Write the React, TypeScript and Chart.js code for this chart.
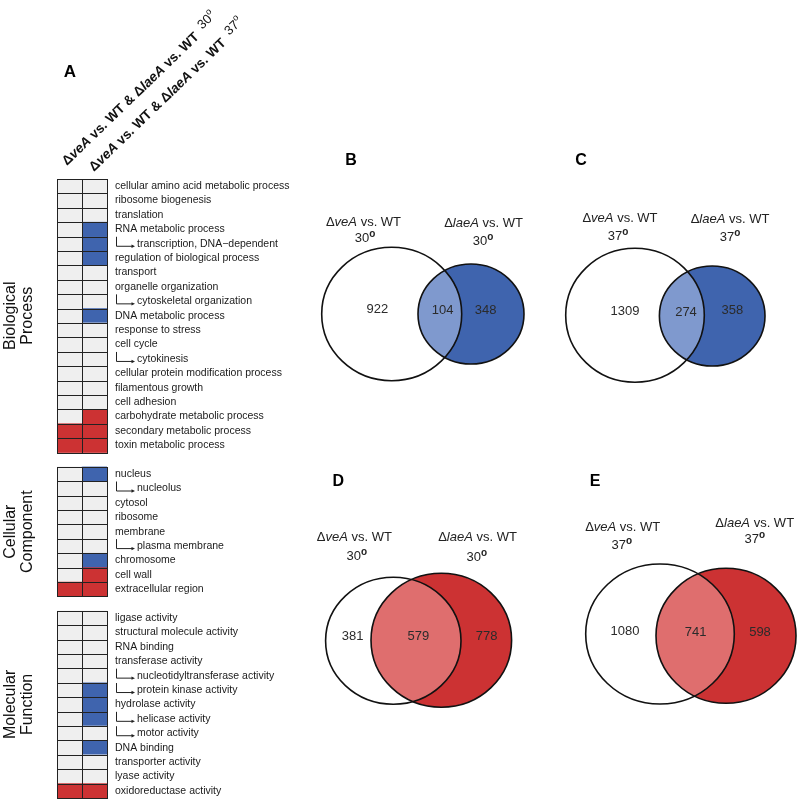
import React, { useEffect, useRef } from "react";
import { Chart, registerables } from "chart.js";
Chart.register(...registerables);

const FONT = '"Liberation Sans", Arial, Helvetica, sans-serif';

// ---------- Panel A data (0 = not enriched, 1 = blue, 2 = red) ----------
const bpTerms = [
  "cellular amino acid metabolic process", "ribosome biogenesis", "translation",
  "RNA metabolic process", "transcription, DNA\u2212dependent", "regulation of biological process",
  "transport", "organelle organization", "cytoskeletal organization", "DNA metabolic process",
  "response to stress", "cell cycle", "cytokinesis", "cellular protein modification process",
  "filamentous growth", "cell adhesion", "carbohydrate metabolic process",
  "secondary metabolic process", "toxin metabolic process",
];
const bpAt30 = [0, 0, 0, 0, 0, 0, 0, 0, 0, 0, 0, 0, 0, 0, 0, 0, 0, 2, 2];
const bpAt37 = [0, 0, 0, 1, 1, 1, 0, 0, 0, 1, 0, 0, 0, 0, 0, 0, 2, 2, 2];

const ccTerms = [
  "nucleus", "nucleolus", "cytosol", "ribosome", "membrane", "plasma membrane",
  "chromosome", "cell wall", "extracellular region",
];
const ccAt30 = [0, 0, 0, 0, 0, 0, 0, 0, 2];
const ccAt37 = [1, 0, 0, 0, 0, 0, 1, 2, 2];

const mfTerms = [
  "ligase activity", "structural molecule activity", "RNA binding", "transferase activity",
  "nucleotidyltransferase activity", "protein kinase activity", "hydrolase activity",
  "helicase activity", "motor activity", "DNA binding", "transporter activity",
  "lyase activity", "oxidoreductase activity",
];
const mfAt30 = [0, 0, 0, 0, 0, 0, 0, 0, 0, 0, 0, 0, 2];
const mfAt37 = [0, 0, 0, 0, 0, 1, 1, 1, 0, 1, 0, 0, 2];

const childTerms = [
  "transcription, DNA\u2212dependent", "cytoskeletal organization", "cytokinesis",
  "nucleolus", "plasma membrane", "nucleotidyltransferase activity",
  "protein kinase activity", "helicase activity", "motor activity",
];
const groupNames = [["Biological", "Process"], ["Cellular", "Component"], ["Molecular", "Function"]];
const headerTemps = ["30", "37"];

// ---------- Venn data ----------
const vennGenes = ["veA", "laeA"];
const countsB = [922, 104, 348];
const countsC = [1309, 274, 358];
const countsD = [381, 579, 778];
const countsE = [1080, 741, 598];

const BLUE = "#3F64AE";
const BLUE_LIGHT = "#7F99CE";
const RED = "#CC3233";
const RED_LIGHT = "#DF6E6E";
const GRAY = "#EFEFEF";
const CELL_COLORS = [GRAY, BLUE, RED];

// ---------- build heatmap rows ----------
type Row = { term: string; c30: number; c37: number } | null;
const rows: Row[] = [];
const groupRanges: [number, number][] = [];
[[bpTerms, bpAt30, bpAt37], [ccTerms, ccAt30, ccAt37], [mfTerms, mfAt30, mfAt37]].forEach(
  (g: any, gi) => {
    if (gi > 0) rows.push(null);
    const start = rows.length;
    (g[0] as string[]).forEach((t, i) => rows.push({ term: t, c30: g[1][i], c37: g[2][i] }));
    groupRanges.push([start, rows.length - 1]);
  }
);

type Part = { text: string; font: string; dy?: number };
function drawRich(ctx: CanvasRenderingContext2D, parts: Part[], x: number, y: number, center: boolean) {
  let total = 0;
  for (const p of parts) {
    ctx.font = p.font;
    total += ctx.measureText(p.text).width;
  }
  let cx = center ? x - total / 2 : x;
  ctx.textAlign = "left";
  for (const p of parts) {
    ctx.font = p.font;
    ctx.fillText(p.text, cx, y + (p.dy || 0));
    cx += ctx.measureText(p.text).width;
  }
}

const heatmapPlugin = {
  id: "heatmapDecor",
  afterDraw(chart: any) {
    const ctx: CanvasRenderingContext2D = chart.ctx;
    const ys = chart.scales.y;
    const area = chart.chartArea;
    ctx.save();
    // cell outlines
    ctx.strokeStyle = "#222";
    ctx.lineWidth = 1;
    chart.data.datasets.forEach((ds: any, di: number) => {
      const meta = chart.getDatasetMeta(di);
      meta.data.forEach((el: any, i: number) => {
        if (ds.data[i] == null) return;
        const p = el.getProps(["x", "y", "base", "height"], true);
        const l = Math.round(Math.min(p.base, p.x)) + 0.5;
        const r = Math.round(Math.max(p.base, p.x)) + 0.5;
        const t = Math.round(p.y - p.height / 2) + 0.5;
        const b = Math.round(p.y + p.height / 2) + 0.5;
        ctx.strokeRect(l, t, r - l, b - t);
      });
    });
    // term labels
    ctx.fillStyle = "#1a1a1a";
    ctx.textBaseline = "middle";
    const tx = area.right + 8;
    rows.forEach((row, i) => {
      if (!row) return;
      const yc = ys.getPixelForValue(i);
      ctx.font = `10.5px ${FONT}`;
      ctx.textAlign = "left";
      if (childTerms.includes(row.term)) {
        ctx.strokeStyle = "#222";
        ctx.lineWidth = 1;
        ctx.beginPath();
        ctx.moveTo(tx + 1.5, yc - 7);
        ctx.lineTo(tx + 1.5, yc + 2.5);
        ctx.lineTo(tx + 17, yc + 2.5);
        ctx.stroke();
        ctx.beginPath();
        ctx.moveTo(tx + 16.5, yc + 0.8);
        ctx.lineTo(tx + 20, yc + 2.5);
        ctx.lineTo(tx + 16.5, yc + 4.2);
        ctx.closePath();
        ctx.fillStyle = "#222";
        ctx.fill();
        ctx.fillStyle = "#1a1a1a";
        ctx.fillText(row.term, tx + 22, yc);
      } else {
        ctx.fillText(row.term, tx, yc);
      }
    });
    // group labels (rotated)
    ctx.fillStyle = "#111";
    ctx.font = `16px ${FONT}`;
    ctx.textAlign = "center";
    ctx.textBaseline = "middle";
    groupRanges.forEach(([s, e], gi) => {
      const yc = (ys.getPixelForValue(s) + ys.getPixelForValue(e)) / 2;
      const names = groupNames[gi];
      [10.5, 27.5].forEach((x, li) => {
        ctx.save();
        ctx.translate(x, yc);
        ctx.rotate(-Math.PI / 2);
        ctx.fillText(names[li], 0, 0);
        ctx.restore();
      });
    });
    // column headers (diagonal)
    const anchors = [[67, 166], [94, 172]];
    const bold = `bold 13.5px ${FONT}`;
    const boldIt = `italic bold 13.5px ${FONT}`;
    headerTemps.forEach((temp, i) => {
      ctx.save();
      ctx.translate(anchors[i][0], anchors[i][1]);
      ctx.rotate((-44 * Math.PI) / 180);
      ctx.textBaseline = "alphabetic";
      ctx.fillStyle = "#111";
      drawRich(
        ctx,
        [
          { text: "\u0394", font: bold },
          { text: "veA", font: boldIt },
          { text: " vs. WT & ", font: bold },
          { text: "\u0394", font: bold },
          { text: "laeA", font: boldIt },
          { text: " vs. WT  ", font: bold },
          { text: temp, font: `13px ${FONT}`, dy: -4 },
          { text: "o", font: `9px ${FONT}`, dy: -10 },
        ],
        0,
        0,
        false
      );
      ctx.restore();
    });
    // panel letter
    ctx.fillStyle = "#000";
    ctx.font = `bold 17px ${FONT}`;
    ctx.textAlign = "center";
    ctx.textBaseline = "middle";
    ctx.fillText("A", 70, 72);
    ctx.restore();
  },
};

function HeatmapPanel() {
  const ref = useRef<HTMLCanvasElement>(null);
  useEffect(() => {
    const labels = rows.map((r) => (r ? r.term : ""));
    const chart = new Chart(ref.current!, {
      type: "bar",
      data: {
        labels,
        datasets: [
          {
            label: "30",
            data: rows.map((r) => (r ? 1 : null)),
            backgroundColor: rows.map((r) => (r ? CELL_COLORS[r.c30] : GRAY)),
            borderWidth: 0,
            barPercentage: 1,
            categoryPercentage: 1,
          },
          {
            label: "37",
            data: rows.map((r) => (r ? 1 : null)),
            backgroundColor: rows.map((r) => (r ? CELL_COLORS[r.c37] : GRAY)),
            borderWidth: 0,
            barPercentage: 1,
            categoryPercentage: 1,
          },
        ],
      } as any,
      options: {
        indexAxis: "y",
        responsive: false,
        animation: false,
        layout: { padding: { left: 57, right: 692, top: 179, bottom: 2 } },
        scales: {
          x: { type: "linear", min: 0, max: 2, stacked: true, display: false },
          y: { type: "category", stacked: true, display: false },
        },
        plugins: { legend: { display: false }, tooltip: { enabled: false } },
      } as any,
      plugins: [heatmapPlugin],
    });
    return () => chart.destroy();
  }, []);
  return (
    <canvas ref={ref} width={799} height={800} style={{ position: "absolute", left: 0, top: 0 }} />
  );
}

// ---------- Venn panels ----------
type Ell = { cx: number; cy: number; rx: number; ry: number };
type VennLayout = {
  letter: string;
  counts: number[];
  temp: string;
  color: string;
  light: string;
  left: number;
  top: number;
  w: number;
  h: number;
  letterPos: [number, number];
  labelPos: [number, number][];
  tempPos: [number, number][];
  a: Ell;
  b: Ell;
  countPos: [number, number][];
};

const VENN_PANELS: VennLayout[] = [
  {
    letter: "B", counts: countsB, temp: "30", color: BLUE, light: BLUE_LIGHT,
    left: 300, top: 140, w: 250, h: 260,
    letterPos: [51, 21],
    labelPos: [[63.5, 81], [183.5, 82.5]],
    tempPos: [[65, 97], [183, 100]],
    a: { cx: 91.7, cy: 174, rx: 70, ry: 66.7 },
    b: { cx: 171, cy: 174, rx: 53, ry: 50 },
    countPos: [[77.3, 169], [142.7, 170], [185.7, 170.7]],
  },
  {
    letter: "C", counts: countsC, temp: "37", color: BLUE, light: BLUE_LIGHT,
    left: 550, top: 140, w: 249, h: 260,
    letterPos: [31, 21],
    labelPos: [[70, 77], [180, 78.5]],
    tempPos: [[68, 95], [180, 96.7]],
    a: { cx: 85, cy: 175.3, rx: 69.3, ry: 67 },
    b: { cx: 162.2, cy: 176, rx: 52.8, ry: 50 },
    countPos: [[75, 171], [136, 172], [182.3, 170]],
  },
  {
    letter: "D", counts: countsD, temp: "30", color: RED, light: RED_LIGHT,
    left: 300, top: 420, w: 250, h: 300,
    letterPos: [38.3, 61.7],
    labelPos: [[54.3, 116.7], [177.5, 116.7]],
    tempPos: [[56.7, 135], [176.7, 136.7]],
    a: { cx: 93.3, cy: 220.8, rx: 67.7, ry: 63.5 },
    b: { cx: 141.3, cy: 220.3, rx: 70.3, ry: 67 },
    countPos: [[52.7, 216.7], [118.3, 216.7], [186.7, 216.7]],
  },
  {
    letter: "E", counts: countsE, temp: "37", color: RED, light: RED_LIGHT,
    left: 550, top: 420, w: 249, h: 300,
    letterPos: [45, 61.7],
    labelPos: [[72.7, 106], [204.7, 102.7]],
    tempPos: [[71.7, 124], [204.7, 118.3]],
    a: { cx: 110, cy: 214, rx: 74.3, ry: 70 },
    b: { cx: 176, cy: 215.8, rx: 70, ry: 67.5 },
    countPos: [[75, 211.7], [145.7, 212], [210, 212]],
  },
];

function makeVennPlugin(p: VennLayout) {
  return {
    id: "venn" + p.letter,
    afterDraw(chart: any) {
      const ctx: CanvasRenderingContext2D = chart.ctx;
      const xs = chart.scales.x;
      const ys = chart.scales.y;
      const px = (v: number) => xs.getPixelForValue(v);
      const py = (v: number) => ys.getPixelForValue(v);
      const path = (e: Ell) => {
        const cx = px(e.cx);
        const cy = py(e.cy);
        const rx = Math.abs(px(e.cx + e.rx) - cx);
        const ry = Math.abs(py(e.cy + e.ry) - cy);
        ctx.beginPath();
        ctx.ellipse(cx, cy, rx, ry, 0, 0, Math.PI * 2);
      };
      ctx.save();
      path(p.a);
      ctx.fillStyle = "#fff";
      ctx.fill();
      path(p.b);
      ctx.fillStyle = p.color;
      ctx.fill();
      ctx.save();
      path(p.a);
      ctx.clip();
      path(p.b);
      ctx.fillStyle = p.light;
      ctx.fill();
      ctx.restore();
      ctx.lineWidth = 1.6;
      ctx.strokeStyle = "#111";
      path(p.a);
      ctx.stroke();
      path(p.b);
      ctx.stroke();

      // counts
      ctx.fillStyle = "#2b2b2b";
      ctx.font = `13px ${FONT}`;
      ctx.textAlign = "center";
      ctx.textBaseline = "middle";
      p.counts.forEach((c, i) => {
        ctx.fillText(String(c), px(p.countPos[i][0]), py(p.countPos[i][1]));
      });

      // set labels
      ctx.fillStyle = "#222";
      ctx.textBaseline = "alphabetic";
      vennGenes.forEach((g, i) => {
        const [lx, ly] = p.labelPos[i];
        drawRich(
          ctx,
          [
            { text: "\u0394", font: `13px ${FONT}` },
            { text: g, font: `italic 13px ${FONT}` },
            { text: " vs. WT", font: `13px ${FONT}` },
          ],
          px(lx),
          py(ly) + 4.6,
          true
        );
        const [tx, ty] = p.tempPos[i];
        drawRich(
          ctx,
          [
            { text: p.temp, font: `13px ${FONT}` },
            { text: "o", font: `bold 10px ${FONT}`, dy: -5 },
          ],
          px(tx),
          py(ty) + 4.6,
          true
        );
      });

      // panel letter
      ctx.fillStyle = "#000";
      ctx.font = `bold 16px ${FONT}`;
      ctx.textAlign = "center";
      ctx.textBaseline = "middle";
      ctx.fillText(p.letter, px(p.letterPos[0]), py(p.letterPos[1]));
      ctx.restore();
    },
  };
}

function VennPanel({ panel }: { panel: VennLayout }) {
  const ref = useRef<HTMLCanvasElement>(null);
  useEffect(() => {
    const chart = new Chart(ref.current!, {
      type: "scatter",
      data: { datasets: [{ label: panel.letter, data: [] }] },
      options: {
        responsive: false,
        animation: false,
        layout: { padding: 0 },
        scales: {
          x: { type: "linear", min: 0, max: panel.w, display: false },
          y: { type: "linear", min: 0, max: panel.h, reverse: true, display: false },
        },
        plugins: { legend: { display: false }, tooltip: { enabled: false } },
      } as any,
      plugins: [makeVennPlugin(panel)],
    });
    return () => chart.destroy();
  }, [panel]);
  return (
    <canvas
      ref={ref}
      width={panel.w}
      height={panel.h}
      style={{ position: "absolute", left: panel.left, top: panel.top }}
    />
  );
}

export default function App() {
  return (
    <div style={{ position: "absolute", left: 0, top: 0, width: 799, height: 800, background: "#fff" }}>
      <HeatmapPanel />
      {VENN_PANELS.map((p) => (
        <VennPanel key={p.letter} panel={p} />
      ))}
    </div>
  );
}
